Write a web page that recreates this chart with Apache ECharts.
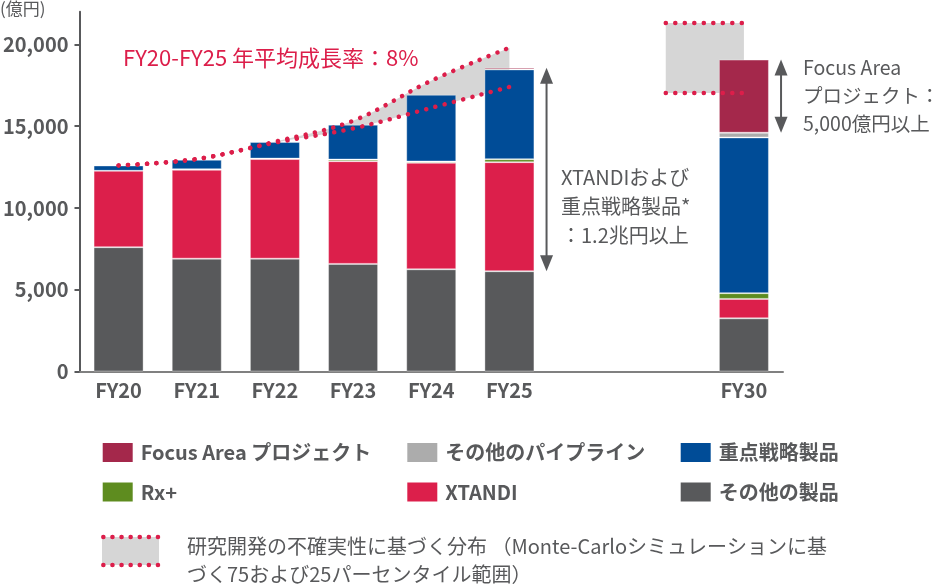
<!DOCTYPE html>
<html>
<head>
<meta charset="utf-8">
<script src="https://cdn.jsdelivr.net/npm/echarts@6/dist/echarts.min.js"></script>
<style>
html,body{margin:0;padding:0;background:#fff;}
#chart{width:935px;height:584px;}
</style>
</head>
<body>
<div id="chart"></div>
<script>
// ---- data ----
const categories = ['FY20', 'FY21', 'FY22', 'FY23', 'FY24', 'FY25', '', ' ', 'FY30'];
const otherProducts = [7600, 6900, 6900, 6580, 6250, 6130, null, null, 3250];
const xtandi        = [4670, 5430, 6090, 6280, 6510, 6670, null, null, 1190];
const rxPlus        = [null, 40, 30, 100, 80, 180, null, null, 350];
const strategic     = [325, 575, 1010, 2130, 4080, 5490, null, null, 9520];
const otherPipeline = [null, null, null, null, null, null, null, null, 290];
const focusArea     = [null, null, null, null, null, 100, null, null, 4470];
const growthUpper = [12600, 12990, 14050, 15330, 17780, 19800];
const growthLower = [12600, 12990, 13990, 14860, 16120, 17400];
const fy30RangeHigh = 21310;
const fy30RangeLow = 17030;
const yTickValues = [0, 5000, 10000, 15000, 20000];
const yMax = 22000;

const seriesNames = ['その他の製品', 'XTANDI', 'Rx+', '重点戦略製品', 'その他のパイプライン', 'Focus Area プロジェクト'];
const seriesColors = ['#58595b', '#dc1f4b', '#5e8c1f', '#004c97', '#acacac', '#a4284b'];
const stackData = [otherProducts, xtandi, rxPlus, strategic, otherPipeline, focusArea];

// ---- helpers ----
const FONT = '"Noto Sans CJK JP", "Noto Sans", sans-serif';
const RED = '#dc1e4a';
const GREY_BAND = '#d6d6d6';
const TXT = '#58595b';

function stackSum(idx, upto) {
  let s = 0;
  for (let k = 0; k <= upto; k++) s += (stackData[k][idx] || 0);
  return s;
}
const i25 = 5, i30 = 8;
const arrowData = [
  [i25, stackSum(i25, 0), stackSum(i25, 5)],
  [i30, stackSum(i30, 4), stackSum(i30, 5)]
];
function pad(arr) {
  const out = arr.slice();
  while (out.length < categories.length) out.push(null);
  return out;
}
const bandDiff = growthUpper.map((v, i) => v - growthLower[i]);
const rangeHighLine = categories.map((c, i) => (i === 7 || i === 8) ? fy30RangeHigh : null);
const rangeLowLine = categories.map((c, i) => (i === 7 || i === 8) ? fy30RangeLow : null);

const dotStyle = { color: RED, width: 4.5, type: [0.1, 9.4], cap: 'round' };

const chart = echarts.init(document.getElementById('chart'), null, { renderer: 'canvas' });

const barSeries = seriesNames.map((name, k) => ({
  name: name,
  type: 'bar',
  stack: 'total',
  barWidth: 50,
  z: 2,
  data: stackData[k],
  itemStyle: { color: seriesColors[k], borderColor: 'rgba(255,255,255,0.35)', borderWidth: 1 },
  emphasis: { disabled: true }
}));

function renderArrow(params, api) {
  const i = api.value(0);
  const p0 = api.coord([i, api.value(1)]);
  const p1 = api.coord([i, api.value(2)]);
  const bw = api.size([1, 0])[0];
  const x = p0[0] + bw * 0.475;
  const yb = p0[1], yt = p1[1];
  const hw = 6.5, hh = 16;
  return {
    type: 'group',
    children: [
      { type: 'line', shape: { x1: x, y1: yt + hh - 2, x2: x, y2: yb - hh + 2 }, style: { stroke: '#58595b', lineWidth: 2 } },
      { type: 'polygon', shape: { points: [[x, yt], [x - hw, yt + hh], [x + hw, yt + hh]] }, style: { fill: '#58595b' } },
      { type: 'polygon', shape: { points: [[x, yb], [x - hw, yb - hh], [x + hw, yb - hh]] }, style: { fill: '#58595b' } }
    ]
  };
}
function renderBox(params, api) {
  const p0 = api.coord([api.value(0), api.value(2)]);
  const p1 = api.coord([api.value(1), api.value(3)]);
  return {
    type: 'rect',
    shape: { x: p0[0], y: p0[1], width: p1[0] - p0[0], height: p1[1] - p0[1] },
    style: { fill: GREY_BAND }
  };
}

const legendPos = [
  { name: 'Focus Area プロジェクト', left: 102.7, top: 442.5 },
  { name: 'その他のパイプライン', left: 407.3, top: 442.5 },
  { name: '重点戦略製品', left: 680.7, top: 442.5 },
  { name: 'Rx+', left: 102.7, top: 482 },
  { name: 'XTANDI', left: 407.3, top: 482 },
  { name: 'その他の製品', left: 680.7, top: 482 }
];

const option = {
  animation: false,
  backgroundColor: '#fff',
  textStyle: { fontFamily: FONT },
  grid: { left: 73, right: 152, top: 11.7, bottom: 212.5, containLabel: false },
  legend: legendPos.map(l => ({
    data: [l.name],
    left: l.left,
    top: l.top,
    padding: 0,
    icon: 'rect',
    itemWidth: 30,
    itemHeight: 19,
    selectedMode: false,
    itemStyle: { borderWidth: 0 },
    textStyle: { fontFamily: FONT, fontSize: 20, fontWeight: 'bold', color: TXT, lineHeight: 20, padding: [0, 0, 0, 3] }
  })),
  xAxis: {
    type: 'category',
    data: categories,
    axisLine: { lineStyle: { color: '#808080', width: 2 } },
    axisTick: { show: false },
    axisLabel: { color: TXT, fontSize: 20, fontWeight: 'bold', fontFamily: FONT, margin: 9, interval: 0 },
    splitLine: { show: false }
  },
  yAxis: {
    type: 'value',
    min: 0,
    max: yMax,
    axisLine: { show: true, lineStyle: { color: '#58595b', width: 2 } },
    axisTick: { show: true, length: 5, lineStyle: { color: '#58595b', width: 2 }, customValues: yTickValues },
    axisLabel: {
      color: TXT, fontSize: 20, fontWeight: 'bold', fontFamily: FONT, margin: 11,
      customValues: yTickValues,
      formatter: v => v.toLocaleString('en-US')
    },
    splitLine: { show: false }
  },
  series: [
    // uncertainty box for FY30
    {
      type: 'custom', name: 'fy30box', z: 1,
      renderItem: renderBox,
      encode: { x: [0, 1], y: [2, 3] },
      data: [[7, 8, fy30RangeHigh, fy30RangeLow]],
      silent: true
    },
    // grey band between growth curves
    {
      type: 'line', name: 'bandBase', stack: 'band', z: 1, smooth: 0.35,
      symbol: 'none', lineStyle: { opacity: 0 }, data: pad(growthLower), silent: true
    },
    {
      type: 'line', name: 'bandFill', stack: 'band', z: 1, smooth: 0.35,
      symbol: 'none', lineStyle: { opacity: 0 }, areaStyle: { color: GREY_BAND, opacity: 1 },
      data: pad(bandDiff), silent: true
    },
    ...barSeries,
    // dotted curves
    {
      type: 'line', name: 'upper', z: 3, smooth: 0.35, symbol: 'none',
      lineStyle: dotStyle, data: pad(growthUpper), silent: true
    },
    {
      type: 'line', name: 'lower', z: 3, smooth: 0.35, symbol: 'none',
      lineStyle: dotStyle, data: pad(growthLower), silent: true
    },
    {
      type: 'line', name: 'rangeHigh', z: 3, symbol: 'none',
      lineStyle: dotStyle, data: rangeHighLine, silent: true
    },
    {
      type: 'line', name: 'rangeLow', z: 3, symbol: 'none',
      lineStyle: dotStyle, data: rangeLowLine, silent: true
    },
    // arrows
    {
      type: 'custom', name: 'arrows', z: 4,
      renderItem: renderArrow,
      encode: { x: 0, y: [1, 2] },
      data: arrowData,
      silent: true
    }
  ],
  graphic: [
    { type: 'text', left: 0, top: 0, style: { text: '(億円)', font: '17px ' + FONT, fill: TXT } },
    { type: 'text', left: 123, top: 47, style: { text: 'FY20-FY25 年平均成長率：8%', font: '22px ' + FONT, fill: RED } },
    { type: 'text', left: 561, top: 163, style: { text: 'XTANDIおよび\n重点戦略製品*\n：1.2兆円以上', font: '20px ' + FONT, fill: '#58595b', lineHeight: 29 } },
    { type: 'text', left: 803, top: 54, style: { text: 'Focus Area\nプロジェクト：\n5,000億円以上', font: '19.5px ' + FONT, fill: '#58595b', lineHeight: 28 } },
    // custom legend for the uncertainty distribution
    { type: 'rect', shape: { x: 102, y: 537, width: 57, height: 28 }, style: { fill: GREY_BAND } },
    { type: 'line', shape: { x1: 103.3, y1: 537, x2: 159, y2: 537 }, style: { stroke: RED, lineWidth: 4.5, lineDash: [0.1, 9], lineCap: 'round' } },
    { type: 'line', shape: { x1: 103.3, y1: 565, x2: 159, y2: 565 }, style: { stroke: RED, lineWidth: 4.5, lineDash: [0.1, 9], lineCap: 'round' } },
    { type: 'text', left: 187, top: 532, style: { text: '研究開発の不確実性に基づく分布 （Monte-Carloシミュレーションに基\nづく75および25パーセンタイル範囲）', font: '20px ' + FONT, fill: '#58595b', lineHeight: 28 } }
  ]
};
chart.setOption(option);
</script>
</body>
</html>
